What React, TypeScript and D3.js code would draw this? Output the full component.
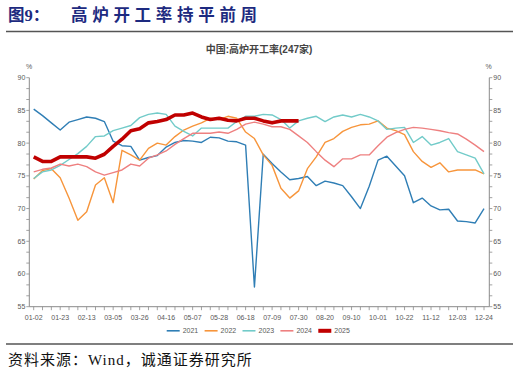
import React from "react";
import * as d3 from "d3";

const weekLabels = ["01-02","01-23","02-13","03-05","03-26","04-16","05-07","05-28","06-18","07-09","07-30","08-20","09-10","10-01","10-22","11-12","12-03","12-24"];
const years = ["2021","2022","2023","2024","2025"];
const s2021 = [85.2,84.2,83.1,82.0,83.2,83.6,84.0,83.8,83.3,80.3,79.6,79.5,77.4,77.8,78.1,79.4,80.1,80.4,80.3,80.1,80.9,80.8,80.3,80.2,79.7,58.0,78.3,76.9,75.6,74.4,74.6,74.9,73.5,74.2,73.9,73.5,71.8,70.0,73.4,77.4,78.0,76.5,75.0,70.9,71.6,70.4,69.8,69.9,68.1,68.0,67.8,70.0];
const s2022 = [74.5,75.8,76.1,74.7,71.6,68.2,69.5,73.6,74.7,70.9,78.9,78.2,77.4,79.2,80.0,79.7,81.0,82.0,82.6,83.1,83.8,83.6,84.1,83.8,81.7,80.7,78.2,76.6,73.1,71.6,72.7,76.1,77.9,80.1,80.7,81.8,82.4,82.8,82.9,83.4,82.3,81.9,81.3,78.7,77.2,76.3,77.0,75.6,75.9,75.9,75.9,75.3];
const s2023 = [74.6,75.6,75.9,76.6,77.5,78.4,79.5,81.0,81.1,81.9,82.3,82.7,83.9,84.4,84.6,84.4,82.6,81.8,81.1,82.3,82.3,82.3,82.3,83.3,84.1,84.1,84.4,84.3,83.6,82.3,83.4,83.8,84.1,83.3,84.0,84.3,84.0,84.4,84.0,83.4,82.1,82.3,82.4,80.1,81.0,79.7,80.1,80.7,78.7,78.2,77.7,75.3];
const s2024 = [75.6,76.0,76.2,76.8,76.5,76.8,76.4,75.6,75.1,75.5,75.9,76.8,76.5,77.7,78.2,78.8,79.8,80.7,81.5,81.5,81.5,81.7,81.5,82.1,82.9,83.2,82.9,82.5,82.5,82.1,81.1,80.1,78.7,77.4,76.4,77.6,77.6,78.2,78.2,79.6,80.9,81.6,82.1,82.4,82.3,82.1,81.9,81.6,81.4,80.6,79.7,78.7];
const s2025 = [77.9,77.2,77.2,77.9,77.9,77.9,77.9,77.7,78.3,79.5,80.6,81.9,82.2,83.1,83.3,83.6,84.3,84.3,84.6,84.0,83.6,83.8,83.5,83.4,83.8,83.8,83.4,83.1,83.4,83.4,83.4];
const yMajor = [55,60,65,70,75,80,85,90];

const seriesList = [s2021, s2022, s2023, s2024, s2025];
const colors = ["#2f7eb5", "#f7953b", "#72cbc9", "#ee8080", "#c00000"];
const widths = [1.4, 1.4, 1.4, 1.4, 3.6];

export default function App() {
  const W = 519, H = 375;
  const nWeeks = 52;
  const x = d3.scaleLinear().domain([0, nWeeks - 1]).range([33.7, 484]);
  const y = d3.scaleLinear().domain([55, 90]).range([306.7, 77.7]);
  const axL = 29.3, axR = 489.3;
  const line = d3.line<number>().x((_, i) => x(i)).y((v) => y(v));
  const minor = d3.range(0, 22).map((k) => 55 + (k * 5) / 3);
  const axisColor = "#8a8a8a";
  const txt = "#595959";
  const cjkSerif = "'Liberation Serif', 'DejaVu Serif', 'Noto Sans CJK SC', serif";
  const sans = "Arial, 'Liberation Sans', 'Noto Sans CJK SC', sans-serif";

  return (
    <svg width={W} height={H} style={{ position: "absolute", left: 0, top: 0, background: "#fff" }}>
      <rect x={0} y={0} width={W} height={H} fill="#fff" />
      {/* Header */}
      <text x={8} y={21} fontFamily={cjkSerif} fontWeight="bold" fontSize={16.5} fill="#1d2a80">图9：</text>
      <text x={71} y={21} fontFamily={cjkSerif} fontWeight="bold" fontSize={16.5} letterSpacing={4.7} fill="#1d2a80">高炉开工率持平前周</text>
      <line x1={6} x2={513} y1={31.5} y2={31.5} stroke="#555" strokeWidth={1.3} />
      <text x={259} y={53} textAnchor="middle" fontFamily={sans} fontWeight="bold" fontSize={10} fill="#444">中国:高炉开工率(247家)</text>

      {/* % units */}
      <text x={29} y={69} textAnchor="middle" fontFamily={sans} fontSize={7} fill={txt}>%</text>
      <text x={488.5} y={69} textAnchor="middle" fontFamily={sans} fontSize={7} fill={txt}>%</text>

      {/* Axes */}
      <line x1={axL} x2={axL} y1={y(90)} y2={y(55)} stroke={axisColor} strokeWidth={1} />
      <line x1={axR} x2={axR} y1={y(90)} y2={y(55)} stroke={axisColor} strokeWidth={1} />
      <line x1={axL} x2={axR} y1={y(55)} y2={y(55)} stroke={axisColor} strokeWidth={1} />
      {minor.map((v, i) => (
        <g key={"m" + i}>
          <line x1={axL - 3} x2={axL} y1={y(v)} y2={y(v)} stroke={axisColor} strokeWidth={0.8} />
          <line x1={axR} x2={axR + 3} y1={y(v)} y2={y(v)} stroke={axisColor} strokeWidth={0.8} />
        </g>
      ))}
      {yMajor.map((v) => (
        <g key={"y" + v}>
          <text x={axL - 4} y={y(v) + 2.5} textAnchor="end" fontFamily={sans} fontSize={7} fill={txt}>{v}</text>
          <text x={axR + 4} y={y(v) + 2.5} textAnchor="start" fontFamily={sans} fontSize={7} fill={txt}>{v}</text>
        </g>
      ))}
      {d3.range(nWeeks).map((i) => (
        <line key={"xt" + i} x1={x(i)} x2={x(i)} y1={y(55)} y2={y(55) + 3.5} stroke={axisColor} strokeWidth={0.8} />
      ))}
      {weekLabels.map((lab, k) => (
        <text key={"xl" + k} x={x(k * 3)} y={319.5} textAnchor="middle" fontFamily={sans} fontSize={7} fill={txt}>{lab}</text>
      ))}

      {/* Series */}
      {seriesList.map((s, k) => (
        <path key={"s" + k} d={line(s) || ""} fill="none" stroke={colors[k]} strokeWidth={widths[k]} strokeLinejoin="round" />
      ))}

      {/* Legend */}
      {years.map((yr, k) => {
        const lx = 166.7 + k * 37.9;
        return (
          <g key={"lg" + k}>
            {k === 4 ? (
              <rect x={lx} y={328.8} width={13} height={4} fill={colors[k]} />
            ) : (
              <line x1={lx} x2={lx + 13} y1={330.8} y2={330.8} stroke={colors[k]} strokeWidth={1.6} />
            )}
            <text x={lx + 16} y={333.3} fontFamily={sans} fontSize={7} fill={txt}>{yr}</text>
          </g>
        );
      })}

      {/* Footer */}
      <line x1={6} x2={513} y1={344} y2={344} stroke="#555" strokeWidth={1.3} />
      <text x={8} y={365} fontFamily={cjkSerif} fontSize={15} letterSpacing={1.0} fill="#111">资料来源：Wind，诚通证券研究所</text>
    </svg>
  );
}
